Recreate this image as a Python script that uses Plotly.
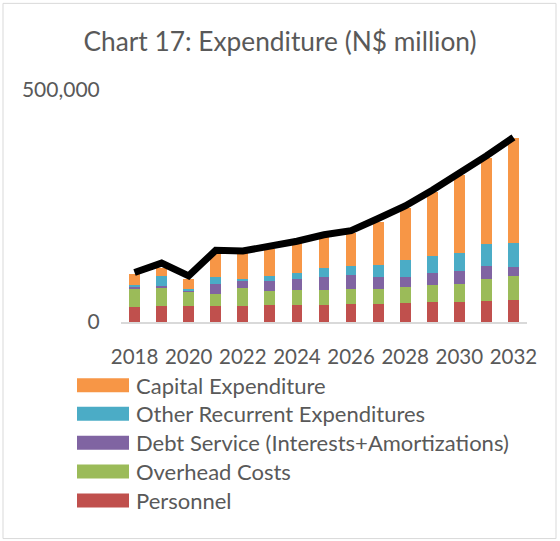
import plotly.graph_objects as go

years = [str(y) for y in range(2018, 2033)]
personnel = [32800, 35000, 35000, 35000, 35000, 36500, 36000, 36000, 38200, 39000, 40300, 42500, 43300, 45500, 46800]
overhead = [40100, 38000, 28600, 25000, 38000, 30700, 32200, 33700, 33000, 32800, 35200, 37300, 39300, 47900, 53000]
debt_service = [4300, 4300, 5000, 22900, 15700, 21500, 24500, 26400, 29200, 25700, 22100, 24900, 26400, 26400, 18700]
other_recurrent = [2800, 21500, 2800, 14300, 4300, 10700, 12000, 19300, 19300, 24300, 35800, 36500, 40100, 48700, 52200]
capital = [23000, 18600, 20800, 52200, 55000, 57200, 65200, 68700, 73000, 94400, 111600, 139500, 167400, 186000, 226800]
total_line = [106700, 127000, 99500, 154500, 153000, 163000, 174000, 188000, 197000, 223000, 250000, 284000, 320000, 358000, 398000]
x_tick_labels = ["2018", "2020", "2022", "2024", "2026", "2028", "2030", "2032"]
y_tick_values = [0, 500000]
y_tick_labels = ["0", "500,000"]

series = [
    ("Personnel", personnel, "#C0504D"),
    ("Overhead Costs", overhead, "#9BBB59"),
    ("Debt Service (Interests+Amortizations)", debt_service, "#8064A2"),
    ("Other Recurrent Expenditures", other_recurrent, "#4BACC6"),
    ("Capital Expenditure", capital, "#F79646"),
]

FONT = "Lato"
GREY = "#595959"

fig = go.Figure()
for name, vals, col in series:
    fig.add_trace(go.Bar(x=years, y=vals, name=name, marker=dict(color=col, line=dict(width=0)),
                         showlegend=False))
fig.add_trace(go.Scatter(x=years, y=total_line, mode="lines", line=dict(color="black", width=7),
                         showlegend=False))

# plot area geometry (pixels)
L, R, T, B = 121, 527, 89.5, 322.5
W, H = R - L, B - T

def px(xp):
    return (xp - L) / W

def py(yp):
    return (B - yp) / H

shapes = [dict(type="rect", xref="paper", yref="paper", x0=px(3), x1=px(556), y0=py(540), y1=py(2.5),
               line=dict(color="#D9D9D9", width=1), fillcolor="rgba(0,0,0,0)", layer="below")]
annotations = []
legend_rows = [386, 414.7, 443.7, 472.7, 501.7]
for (name, vals, col), yc in zip(reversed(series), legend_rows):
    shapes.append(dict(type="rect", xref="paper", yref="paper", x0=px(77), x1=px(129),
                       y0=py(yc + 7), y1=py(yc - 7), fillcolor=col, line=dict(width=0)))
    annotations.append(dict(text=name, xref="paper", yref="paper", x=px(134), y=py(yc),
                            xanchor="left", yanchor="middle", showarrow=False,
                            font=dict(family=FONT, size=22, color=GREY)))

fig.update_layout(
    width=560, height=541,
    margin=dict(l=L, r=560 - R, t=T, b=541 - B),
    paper_bgcolor="white", plot_bgcolor="white",
    barmode="stack", bargap=0.6,
    title=dict(text="Chart 17: Expenditure (N$ million)", x=0.5, xanchor="center",
               y=1 - 42 / 541, yanchor="middle", yref="container",
               font=dict(family=FONT, size=26.3, color=GREY)),
    xaxis=dict(type="category", tickmode="array", tickvals=x_tick_labels, ticktext=x_tick_labels,
               tickfont=dict(family=FONT, size=20.5, color=GREY), ticks="outside", ticklen=16,
               tickcolor="rgba(0,0,0,0)", showgrid=False, showline=True, linecolor="#D9D9D9",
               linewidth=1.5, zeroline=False),
    yaxis=dict(range=[0, 500000], tickmode="array", tickvals=y_tick_values, ticktext=y_tick_labels,
               tickfont=dict(family=FONT, size=21, color=GREY), ticks="outside", ticklen=16,
               tickcolor="rgba(0,0,0,0)", showgrid=True, gridcolor="#D9D9D9", gridwidth=1.5,
               zeroline=False, showline=False),
    shapes=shapes, annotations=annotations,
)

fig.write_html("out.html", config={"displayModeBar": False},
               post_script="document.body.style.margin='0';document.body.style.overflow='hidden';")
